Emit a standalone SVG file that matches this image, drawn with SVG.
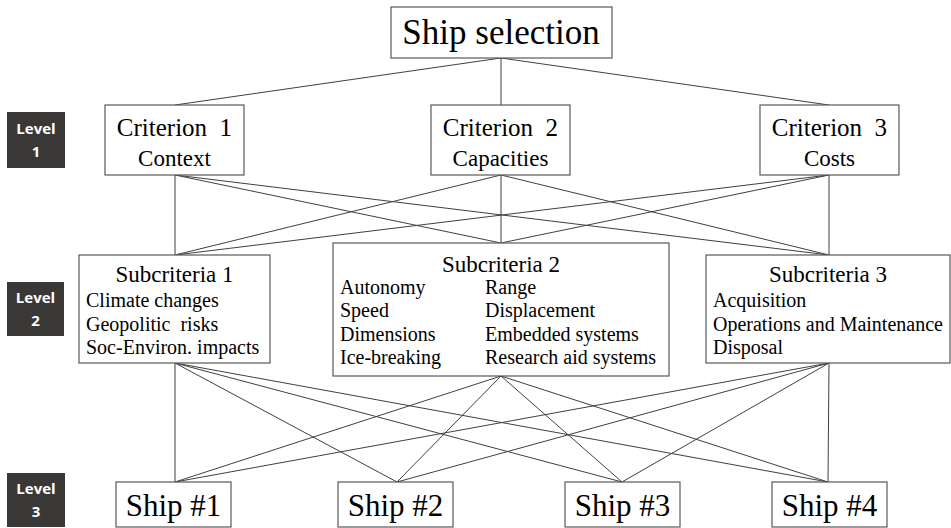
<svg xmlns="http://www.w3.org/2000/svg" width="951" height="528" viewBox="0 0 951 528">
<style>
.box{fill:#fff;stroke:#595959;stroke-width:1.2}
.lvl{fill:#3a3836}
.lt{font-family:"Open Sans","DejaVu Sans",sans-serif;font-weight:bold;font-size:15px;fill:#fff;text-anchor:middle}
.t{font-family:"Liberation Serif","Times New Roman",serif;fill:#000}
.c{text-anchor:middle}
.conn line{stroke:#404040;stroke-width:1}
</style>
<rect width="951" height="528" fill="#fff"/>
<g id="connectors" class="conn">
<line x1="501" y1="58" x2="175" y2="105"/>
<line x1="501" y1="58" x2="501" y2="105"/>
<line x1="501" y1="58" x2="829" y2="105"/>
<line x1="175" y1="175" x2="175" y2="255"/>
<line x1="175" y1="175" x2="501" y2="243"/>
<line x1="175" y1="175" x2="829" y2="255"/>
<line x1="501" y1="175" x2="175" y2="255"/>
<line x1="501" y1="175" x2="501" y2="243"/>
<line x1="501" y1="175" x2="829" y2="255"/>
<line x1="829" y1="175" x2="175" y2="255"/>
<line x1="829" y1="175" x2="501" y2="243"/>
<line x1="829" y1="175" x2="829" y2="255"/>
<line x1="175" y1="363" x2="175" y2="482"/>
<line x1="175" y1="363" x2="397" y2="482"/>
<line x1="175" y1="363" x2="622" y2="482"/>
<line x1="175" y1="363" x2="828" y2="482"/>
<line x1="501" y1="376" x2="175" y2="482"/>
<line x1="501" y1="376" x2="397" y2="482"/>
<line x1="501" y1="376" x2="622" y2="482"/>
<line x1="501" y1="376" x2="828" y2="482"/>
<line x1="829" y1="363" x2="175" y2="482"/>
<line x1="829" y1="363" x2="397" y2="482"/>
<line x1="829" y1="363" x2="622" y2="482"/>
<line x1="829" y1="363" x2="828" y2="482"/>
</g>
<g id="level1">
<rect class="lvl" x="7" y="112" width="58" height="56"/>
<text class="lt" x="36" y="134">Level</text>
<text class="lt" x="36" y="157">1</text>
</g>
<g id="level2">
<rect class="lvl" x="7" y="282" width="57" height="54"/>
<text class="lt" x="35.5" y="303">Level</text>
<text class="lt" x="35.5" y="326">2</text>
</g>
<g id="level3">
<rect class="lvl" x="7" y="473" width="58" height="54"/>
<text class="lt" x="36" y="494">Level</text>
<text class="lt" x="36" y="517">3</text>
</g>
<g id="ship-selection">
<rect class="box" x="391" y="7" width="221" height="51"/>
<text class="t c" x="501" y="44" font-size="35">Ship selection</text>
</g>
<g id="criterion1">
<rect class="box" x="105" y="105" width="139" height="70"/>
<text class="t c" x="174.5" y="136" font-size="25" xml:space="preserve">Criterion  1</text>
<text class="t c" x="174.5" y="166" font-size="23">Context</text>
</g>
<g id="criterion2">
<rect class="box" x="431" y="105" width="139" height="70"/>
<text class="t c" x="500.5" y="136" font-size="25" xml:space="preserve">Criterion  2</text>
<text class="t c" x="500.5" y="166" font-size="23">Capacities</text>
</g>
<g id="criterion3">
<rect class="box" x="760" y="105" width="139" height="70"/>
<text class="t c" x="829.5" y="136" font-size="25" xml:space="preserve">Criterion  3</text>
<text class="t c" x="829.5" y="166" font-size="23">Costs</text>
</g>
<g id="subcriteria1">
<rect class="box" x="79" y="255" width="191" height="108"/>
<text class="t c" x="174.5" y="282" font-size="23">Subcriteria 1</text>
<text class="t" x="86" y="307" font-size="20">Climate changes</text>
<text class="t" x="86" y="331" font-size="20" xml:space="preserve">Geopolitic  risks</text>
<text class="t" x="86" y="354" font-size="20">Soc-Environ. impacts</text>
</g>
<g id="subcriteria2">
<rect class="box" x="333" y="243" width="336" height="133"/>
<text class="t c" x="501" y="272" font-size="23">Subcriteria 2</text>
<text class="t" x="340" y="294" font-size="20">Autonomy</text>
<text class="t" x="340" y="317" font-size="20">Speed</text>
<text class="t" x="340" y="341" font-size="20">Dimensions</text>
<text class="t" x="340" y="364" font-size="20">Ice-breaking</text>
<text class="t" x="485" y="294" font-size="20">Range</text>
<text class="t" x="485" y="317" font-size="20">Displacement</text>
<text class="t" x="485" y="341" font-size="20">Embedded systems</text>
<text class="t" x="485" y="364" font-size="20">Research aid systems</text>
</g>
<g id="subcriteria3">
<rect class="box" x="706" y="255" width="244" height="108"/>
<text class="t c" x="828" y="282" font-size="23">Subcriteria 3</text>
<text class="t" x="713" y="307" font-size="20">Acquisition</text>
<text class="t" x="713" y="331" font-size="20">Operations and Maintenance</text>
<text class="t" x="713" y="354" font-size="20">Disposal</text>
</g>
<g id="ship1">
<rect class="box" x="116" y="482" width="115" height="45"/>
<text class="t c" x="173.5" y="516" font-size="31">Ship #1</text>
</g>
<g id="ship2">
<rect class="box" x="338" y="482" width="115" height="45"/>
<text class="t c" x="395.5" y="516" font-size="31">Ship #2</text>
</g>
<g id="ship3">
<rect class="box" x="565" y="482" width="115" height="45"/>
<text class="t c" x="622.5" y="516" font-size="31">Ship #3</text>
</g>
<g id="ship4">
<rect class="box" x="772" y="482" width="115" height="45"/>
<text class="t c" x="829.5" y="516" font-size="31">Ship #4</text>
</g>
</svg>
